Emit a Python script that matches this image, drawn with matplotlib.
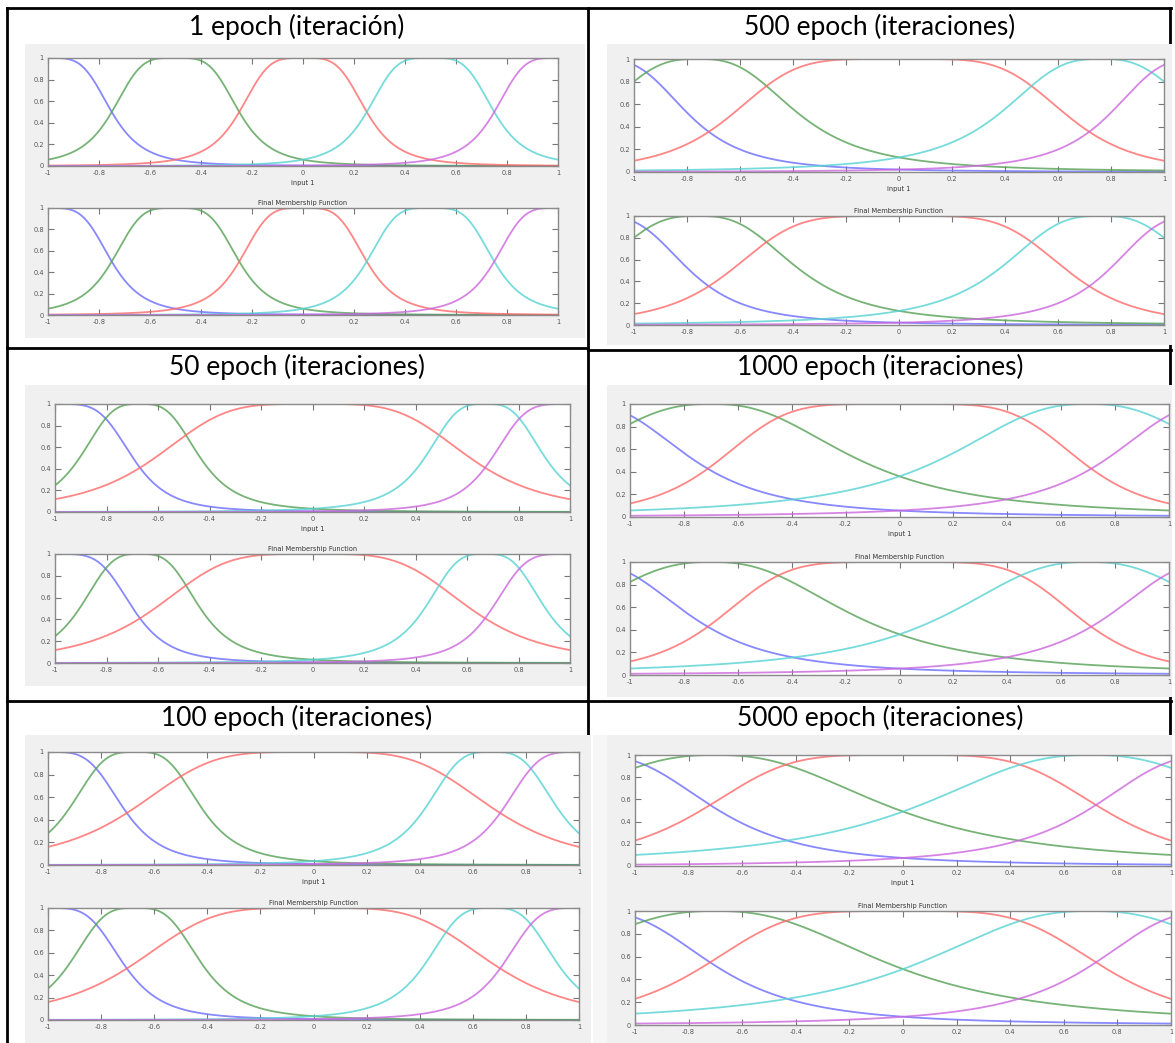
import numpy as np
import matplotlib.pyplot as plt
from matplotlib.patches import Rectangle
from matplotlib.lines import Line2D

W, H = 1175, 1043

# titles of the six table cells (left column then right column, row by row)
titles = ['1 epoch (iteración)', '500 epoch (iteraciones)',
          '50 epoch (iteraciones)', '1000 epoch (iteraciones)',
          '100 epoch (iteraciones)', '5000 epoch (iteraciones)']

# generalized bell MF parameters: centre, half width, slope
c_ep1 = [-1.0, -0.5, 0.0, 0.5, 1.0]
a_ep1 = [0.25, 0.25, 0.25, 0.25, 0.25]
b_ep1 = [2.0, 2.0, 2.0, 2.0, 2.0]

c_ep500 = [-1.15, -0.76, 0.0, 0.76, 1.15]
a_ep500 = [0.361, 0.39, 0.635, 0.39, 0.361]
b_ep500 = [1.65, 1.43, 2.42, 1.43, 1.65]

c_ep50 = [-1.0, -0.67, 0.0, 0.67, 1.0]
a_ep50 = [0.303, 0.235, 0.613, 0.235, 0.303]
b_ep50 = [2.15, 1.65, 2.05, 1.65, 2.15]

c_ep1000 = [-1.2, -0.7, 0.0, 0.7, 1.2]
a_ep1000 = [0.44, 0.556, 0.671, 0.556, 0.44]
b_ep1000 = [1.4, 1.25, 2.5, 1.25, 1.4]

c_ep100 = [-1.0, -0.67, 0.0, 0.67, 1.0]
a_ep100 = [0.285, 0.25, 0.677, 0.25, 0.285]
b_ep100 = [1.95, 1.7, 2.125, 1.7, 1.95]

c_ep5000 = [-1.2, -0.7, 0.0, 0.7, 1.2]
a_ep5000 = [0.513, 0.689, 0.754, 0.689, 0.513]
b_ep5000 = [1.5, 1.22, 2.15, 1.22, 1.5]

params = [(c_ep1, a_ep1, b_ep1), (c_ep500, a_ep500, b_ep500),
          (c_ep50, a_ep50, b_ep50), (c_ep1000, a_ep1000, b_ep1000),
          (c_ep100, a_ep100, b_ep100), (c_ep5000, a_ep5000, b_ep5000)]

xticks = [-1, -0.8, -0.6, -0.4, -0.2, 0, 0.2, 0.4, 0.6, 0.8, 1]
xticklabels = ['-1', '-0.8', '-0.6', '-0.4', '-0.2', '0', '0.2', '0.4', '0.6', '0.8', '1']
yticks = [0, 0.2, 0.4, 0.6, 0.8, 1]
yticklabels = ['0', '0.2', '0.4', '0.6', '0.8', '1']

mf_colors = ['#6a6aff', '#55a055', '#ff6868', '#55d2d2', '#cc66dd']

# pixel layout: (left, top, right, bottom)
top_boxes = [(48, 58, 558, 166), (634, 59, 1164, 172),
             (55, 404, 570, 512), (630, 404, 1169, 517),
             (48, 752, 579, 865), (635, 755, 1171, 866)]
bot_boxes = [(48, 208, 558, 315), (634, 216, 1164, 325),
             (55, 554, 570, 663), (630, 562, 1169, 675),
             (48, 908, 579, 1020), (635, 911, 1171, 1025)]
gray_boxes = [(25, 44, 585, 338), (607, 44, 1172, 345),
              (25, 385, 587, 686), (607, 385, 1172, 697),
              (25, 735, 591, 1043), (607, 735, 1172, 1043)]
title_pos = [(297, 27), (880, 27), (297, 367), (880, 367), (297, 718), (880, 718)]


def frac(box):
    l, t, r, b = box
    return [l / W, 1 - b / H, (r - l) / W, (b - t) / H]


def gbell(x, c, a, b):
    return 1.0 / (1.0 + np.abs((x - c) / a) ** (2 * b))


fig = plt.figure(figsize=(W / 100, H / 100), dpi=100)
fig.patch.set_facecolor('white')

# table lines
def hline(y, x0, x1):
    fig.add_artist(Line2D([x0 / W, x1 / W], [1 - y / H, 1 - y / H], color='black', lw=2, zorder=-3))

def vline(x, y0, y1):
    fig.add_artist(Line2D([x / W, x / W], [1 - y0 / H, 1 - y1 / H], color='black', lw=2, zorder=-3))

hline(8, 7, 1171)
hline(348, 7, 588)
hline(350, 588, 1171)
hline(701, 7, 1171)
vline(7, 8, 1043)
vline(588, 8, 1043)
vline(1170, 8, 1043)

# light strip beside the bottom right picture
fig.add_artist(Rectangle((593 / W, 0), 14 / W, (1043 - 735) / H, transform=fig.transFigure,
                         facecolor='#f6f6f6', edgecolor='none', zorder=-2))
for gb in gray_boxes:
    l, t, r, b = gb
    fig.add_artist(Rectangle((l / W, 1 - b / H), (r - l) / W, (b - t) / H, transform=fig.transFigure,
                             facecolor='#f0f0f0', edgecolor='none', zorder=-2))

x = np.linspace(-1, 1, 801)


def draw_panel(box, c, a, b, xlabel=None, title=None):
    ax = fig.add_axes(frac(box))
    for i in range(5):
        ax.plot(x, gbell(x, c[i], a[i], b[i]), color=mf_colors[i], lw=1.3, alpha=0.8)
    ax.set_xlim(-1, 1)
    ax.set_ylim(0, 1)
    ax.set_xticks(xticks)
    ax.set_xticklabels(xticklabels)
    ax.set_yticks(yticks)
    ax.set_yticklabels(yticklabels)
    ax.tick_params(direction='in', length=4, width=0.8, colors='#777777', labelsize=4.8,
                   top=True, right=True, pad=3, labelcolor='#555555')
    for s in ax.spines.values():
        s.set_color('#8a8a8a')
        s.set_linewidth(1.0)
    if xlabel:
        ax.set_xlabel(xlabel, fontsize=4.8, color='#333333', labelpad=3)
    if title:
        ax.set_title(title, fontsize=4.8, color='#333333', pad=2)
    return ax


for k in range(6):
    c, a, b = params[k]
    draw_panel(top_boxes[k], c, a, b, xlabel='input 1')
    draw_panel(bot_boxes[k], c, a, b, title='Final Membership Function')
    tx, ty = title_pos[k]
    fig.text(tx / W, 1 - ty / H, titles[k], ha='center', va='center',
             fontsize=19, family=['Lato', 'DejaVu Sans'], color='black')

fig.savefig('out.png', dpi=100)
